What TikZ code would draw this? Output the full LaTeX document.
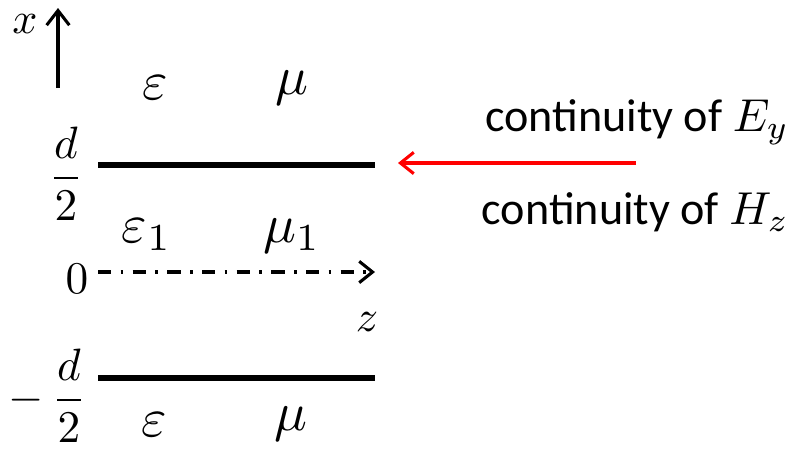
\documentclass[tikz,border=0pt]{standalone}
\usepackage{amsmath}
\usepackage{fontspec}
\setmainfont{Carlito}
\usetikzlibrary{arrows.meta,positioning,calc}
\definecolor{ArrowRed}{RGB}{255,0,0}
\tikzset{
  interface/.style={line width=4.5pt},
  axisline/.style={line width=2.3pt, -{Straight Barb[length=11pt,width=17pt,line width=2.3pt]}},
  bigsym/.style={font=\fontsize{10}{12}\selectfont, inner sep=0pt, scale=4.1},
  coordsym/.style={font=\fontsize{10}{12}\selectfont, inner sep=0pt, scale=3.4},
  smallsym/.style={font=\fontsize{10}{12}\selectfont, inner sep=0pt, scale=3.3},
  condtext/.style={font=\fontsize{10}{12}\selectfont, inner sep=0pt, anchor=east, scale=3.46},
}
\begin{document}
\begin{tikzpicture}[x=0.75pt, y=-0.75pt]
  \useasboundingbox (0,0) rectangle (794,451);

  % x axis
  \coordinate (xbot) at (58,88);
  \coordinate (xtop) at (58,8);
  \draw[axisline] (xbot) -- (xtop);
  \node[smallsym] (xlab) at (25,24) {$x$};

  % interfaces
  \coordinate (topL) at (98,165);
  \coordinate (topR) at (375,165);
  \coordinate (botL) at (98,378);
  \coordinate (botR) at (375,378);
  \draw[interface] (topL) -- (topR);
  \draw[interface] (botL) -- (botR);

  % z axis
  \coordinate (zL) at (98,272);
  \coordinate (zR) at (375,272);
  \draw[line width=2.3pt, dash pattern=on 10pt off 7pt on 2pt off 7pt,
        -{Straight Barb[length=10pt,width=16pt,line width=2.3pt]}] (zL) -- (zR);
  \node[smallsym] (zlab) at (367,322) {$z$};

  % coordinates on the left
  \node[coordsym] (dtop) at (66,174) {$\dfrac{d}{2}$};
  \node[coordsym] (zero) at (77,279) {$0$};
  \node[coordsym, anchor=east] (dbot) at (87,396) {$-\,\dfrac{d}{2}$};

  % media
  \node[bigsym] (epsA) at (155,88) {$\varepsilon$};
  \node[bigsym] (muA) at (292,88) {$\mu$};
  \node[bigsym] (epsB) at (147,235) {$\varepsilon_1$};
  \node[bigsym] (muB) at (292,236) {$\mu_1$};
  \node[bigsym] (epsC) at (154,425) {$\varepsilon$};
  \node[bigsym] (muC) at (291,424) {$\mu$};

  % boundary conditions
  \node[condtext] (condE) at (790,122) {continuity of $E_y$};
  \node[condtext] (condH) at (790,212) {continuity of $H_z$};
  \coordinate (redR) at (636,163);
  \coordinate (redL) at (398,163);
  \draw[ArrowRed, line width=2.3pt, -{Straight Barb[length=10pt,width=16pt,line width=2.3pt]}] (redR) -- (redL);
\end{tikzpicture}
\end{document}
